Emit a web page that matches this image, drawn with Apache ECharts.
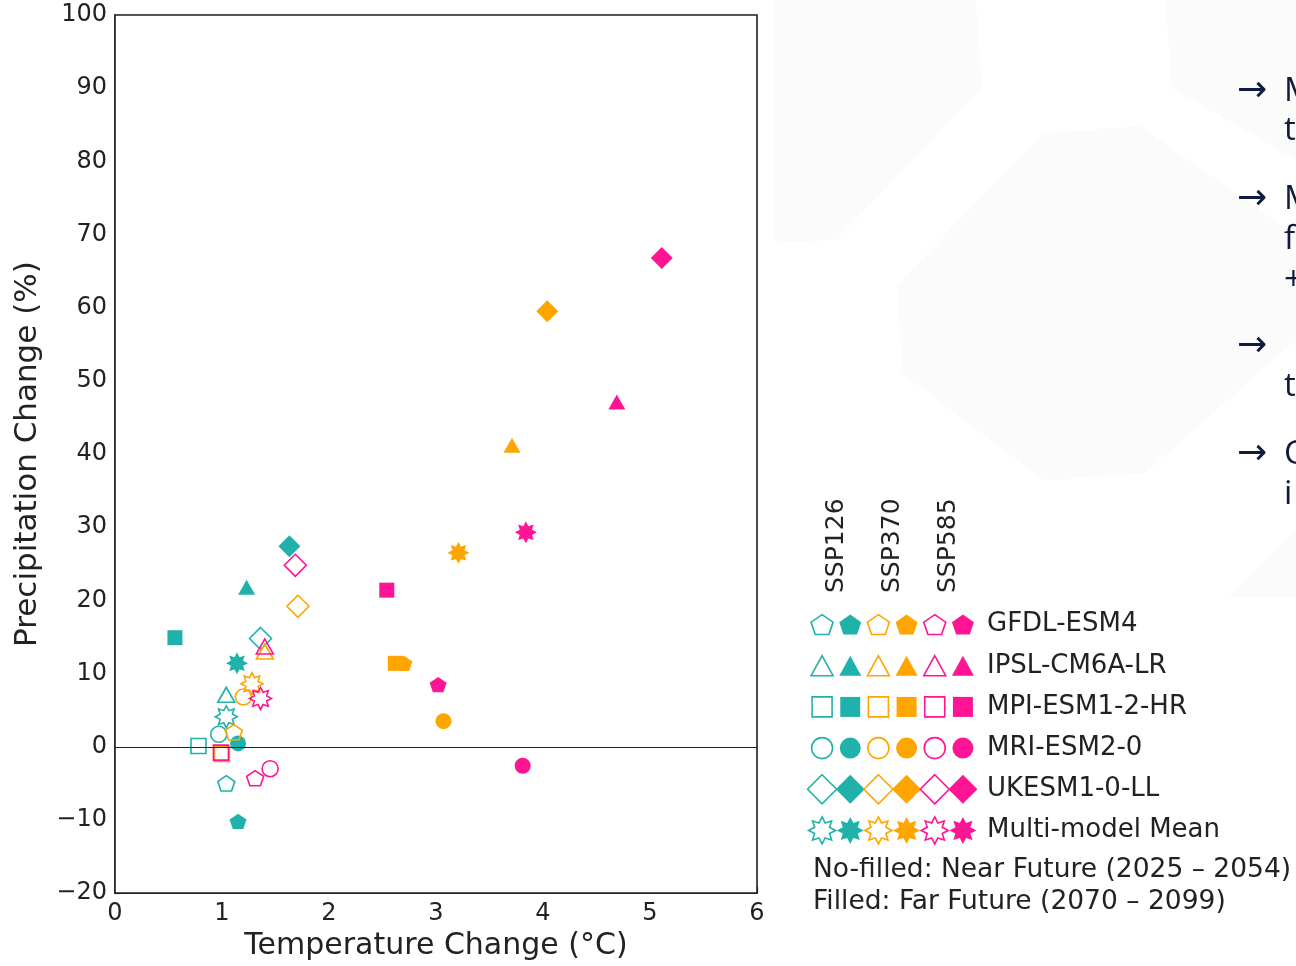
<!DOCTYPE html>
<html>
<head>
<meta charset="utf-8">
<script src="https://cdn.jsdelivr.net/npm/echarts@6/dist/echarts.min.js"></script>
<style>
html,body{margin:0;padding:0;background:#fff;}
#chart{width:1296px;height:966px;}
</style>
</head>
<body>
<div id="chart"></div>
<script>
// ---------- data ----------
const models = ['GFDL-ESM4', 'IPSL-CM6A-LR', 'MPI-ESM1-2-HR', 'MRI-ESM2-0', 'UKESM1-0-LL', 'Multi-model Mean'];
const scenarios = ['SSP126', 'SSP370', 'SSP585'];
const xTicks = [0, 1, 2, 3, 4, 5, 6];
const yTicks = [-20, -10, 0, 10, 20, 30, 40, 50, 60, 70, 80, 90, 100];

// Near future (2025-2054): temperature change (°C), precipitation change (%)
const ssp126NearT = [1.04, 1.04, 0.78, 0.97, 1.36, 1.04];
const ssp126NearP = [-5.0, 7.1, 0.1, 1.7, 14.8, 4.1];
const ssp370NearT = [1.11, 1.40, 1.00, 1.20, 1.71, 1.28];
const ssp370NearP = [2.0, 13.0, -1.0, 6.8, 19.2, 8.6];
const ssp585NearT = [1.31, 1.40, 0.99, 1.45, 1.685, 1.36];
const ssp585NearP = [-4.3, 13.7, -0.8, -3.0, 24.8, 6.6];
// Far future (2070-2099)
const ssp126FarT = [1.15, 1.23, 0.56, 1.15, 1.63, 1.14];
const ssp126FarP = [-10.2, 21.8, 14.9, 0.45, 27.4, 11.4];
const ssp370FarT = [2.70, 3.71, 2.62, 3.07, 4.04, 3.21];
const ssp370FarP = [11.4, 41.2, 11.4, 3.5, 59.5, 26.5];
const ssp585FarT = [3.02, 4.69, 2.54, 3.81, 5.11, 3.84];
const ssp585FarP = [8.5, 47.1, 21.4, -2.6, 66.8, 29.3];

const footNear = 'No-filled: Near Future (2025 \u2013 2054)';
const footFar = 'Filled: Far Future (2070 \u2013 2099)';

// ---------- styling ----------
const colors = ['#20B2AA', '#FFA500', '#FF1493'];
const pentagon = 'path://M0,-1L0.951,-0.309L0.588,0.809L-0.588,0.809L-0.951,-0.309Z';
function starPath(n, rin) {
  let d = '';
  for (let k = 0; k < 2 * n; k++) {
    const a = -Math.PI / 2 + k * Math.PI / n;
    const r = k % 2 === 0 ? 1 : rin;
    d += (k === 0 ? 'M' : 'L') + (r * Math.cos(a)).toFixed(3) + ',' + (r * Math.sin(a)).toFixed(3);
  }
  return 'path://' + d + 'Z';
}
const star = starPath(8, 0.6);
const symbols = [pentagon, 'triangle', 'rect', 'circle', 'diamond', star];
const sizes = [[17, 16], [17, 15], [15, 15], [16, 16], [22, 22], [22, 22]];
const legSizes = [[22, 21], [22, 20], [20, 20], [21, 21], [29, 29], [27, 27]];
const FONT = 'DejaVu Sans';
const fmt = v => (v < 0 ? '\u2212' + Math.abs(v) : String(v));

const groups = [
  {T: ssp126NearT, P: ssp126NearP, s: 0, filled: false},
  {T: ssp126FarT, P: ssp126FarP, s: 0, filled: true},
  {T: ssp370NearT, P: ssp370NearP, s: 1, filled: false},
  {T: ssp370FarT, P: ssp370FarP, s: 1, filled: true},
  {T: ssp585NearT, P: ssp585NearP, s: 2, filled: false},
  {T: ssp585FarT, P: ssp585FarP, s: 2, filled: true}
];

function styleFor(c, filled) {
  return filled
    ? {color: c, borderColor: c, borderWidth: 0, opacity: 1}
    : {color: 'rgba(255,255,255,0)', borderColor: c, borderWidth: 1.6, opacity: 1};
}

const series = groups.map((g, gi) => ({
  type: 'scatter',
  name: scenarios[g.s] + (g.filled ? ' far' : ' near'),
  xAxisIndex: 0, yAxisIndex: 0,
  symbolKeepAspect: true,
  z: 3,
  itemStyle: styleFor(colors[g.s], g.filled),
  data: models.map((m, i) => ({
    value: [g.T[i], g.P[i]],
    name: m,
    symbol: symbols[i],
    symbolSize: sizes[i]
  })),
  markLine: gi === 0 ? {
    silent: true, symbol: 'none', label: {show: false},
    lineStyle: {color: '#222', width: 1.2, type: 'solid'},
    data: [{yAxis: 0}]
  } : undefined
}));

// legend grid series (6 columns: scenario x filled)
const legData = [];
for (let r = 0; r < models.length; r++) {
  for (let c = 0; c < 6; c++) {
    const s = Math.floor(c / 2), filled = c % 2 === 1;
    legData.push({
      value: [c, r],
      symbol: symbols[r],
      symbolSize: legSizes[r],
      itemStyle: styleFor(colors[s], filled)
    });
  }
}
series.push({
  type: 'scatter', name: 'legend', xAxisIndex: 1, yAxisIndex: 1,
  symbolKeepAspect: true, silent: true, data: legData
});

// faint background shapes on the right
const bg = '#fbfbfc';
const graphics = [
  {type: 'polygon', z: -10, shape: {points: [[775, 0], [976, 0], [982, 88], [836, 240], [775, 243]]}, style: {fill: bg}},
  {type: 'polygon', z: -10, shape: {points: [[1043, 133], [1140, 126], [1296, 235], [1296, 340], [1145, 473], [1045, 481], [903, 374], [897, 285]]}, style: {fill: bg}},
  {type: 'polygon', z: -10, shape: {points: [[1165, 0], [1296, 0], [1296, 160], [1172, 88]]}, style: {fill: bg}},
  {type: 'polygon', z: -10, shape: {points: [[1228, 598], [1296, 530], [1296, 598]]}, style: {fill: bg}},
  {type: 'text', left: 813, top: 857, style: {text: footNear, font: '26.5px "' + FONT + '"', fill: '#222'}},
  {type: 'text', left: 813, top: 889, style: {text: footFar, font: '26.5px "' + FONT + '"', fill: '#222'}}
];
scenarios.forEach((s, j) => graphics.push({
  type: 'text', x: 836 + j * 56.4, y: 593, rotation: Math.PI / 2,
  style: {text: s, font: '25px "' + FONT + '"', fill: '#222', textAlign: 'left', textVerticalAlign: 'middle'}
}));
const sideText = [
  ['\u2192', 1237, 92, 'DejaVu Sans', 36], ['M', 1284, 92], ['t', 1284, 131],
  ['\u2192', 1237, 200, 'DejaVu Sans', 36], ['M', 1284, 200], ['f', 1284, 240], ['+', 1284, 281],
  ['\u2192', 1237, 347, 'DejaVu Sans', 36], ['t', 1284, 387],
  ['\u2192', 1237, 455, 'DejaVu Sans', 36], ['C', 1284, 455], ['i', 1284, 495]
];
sideText.forEach(([t, x, y, f, fs]) => graphics.push({
  type: 'text', x: x, y: y,
  style: {text: t, font: (fs || 33) + 'px "' + (f || 'Open Sans') + '"', fill: '#0f1b3d', textVerticalAlign: 'middle'}
}));

const chart = echarts.init(document.getElementById('chart'), null, {renderer: 'canvas'});
chart.setOption({
  backgroundColor: '#ffffff',
  animation: false,
  textStyle: {fontFamily: FONT},
  grid: [
    {left: 115, top: 15, width: 642, height: 880, show: true, borderColor: '#222', borderWidth: 1.6, backgroundColor: '#fff', z: 1},
    {left: 808, top: 604, width: 169, height: 247, show: false}
  ],
  xAxis: [
    {
      type: 'value', gridIndex: 0, min: xTicks[0], max: xTicks[xTicks.length - 1], interval: 1,
      name: 'Temperature Change (\u00B0C)', nameLocation: 'middle', nameGap: 37,
      nameTextStyle: {fontSize: 30, color: '#222', fontFamily: FONT},
      axisLine: {show: true, onZero: false, lineStyle: {color: '#222', width: 1.6}},
      axisTick: {show: true, inside: true, length: 6, lineStyle: {color: '#222', width: 1.2}},
      axisLabel: {fontSize: 24, color: '#222', margin: 9, fontFamily: FONT, formatter: fmt},
      splitLine: {show: true, lineStyle: {color: '#c8c8c8', width: 1.6}}
    },
    {type: 'value', gridIndex: 1, min: -0.5, max: 5.5, show: false}
  ],
  yAxis: [
    {
      type: 'value', gridIndex: 0, min: yTicks[0], max: yTicks[yTicks.length - 1], interval: 10,
      name: 'Precipitation Change (%)', nameLocation: 'middle', nameGap: 72,
      nameTextStyle: {fontSize: 31, color: '#222', fontFamily: FONT},
      axisLine: {show: true, onZero: false, lineStyle: {color: '#222', width: 1.6}},
      axisTick: {show: true, inside: true, length: 6, lineStyle: {color: '#222', width: 1.2}},
      axisLabel: {fontSize: 24, color: '#222', margin: 8, fontFamily: FONT, formatter: fmt},
      splitLine: {show: true, lineStyle: {color: '#c8c8c8', width: 1.6}}
    },
    {
      type: 'category', gridIndex: 1, position: 'right', inverse: true, data: models,
      axisLine: {show: false}, axisTick: {show: false}, splitLine: {show: false},
      axisLabel: {fontSize: 26, color: '#222', margin: 10, fontFamily: FONT}
    }
  ],
  graphic: graphics,
  series: series
});
</script>
</body>
</html>
